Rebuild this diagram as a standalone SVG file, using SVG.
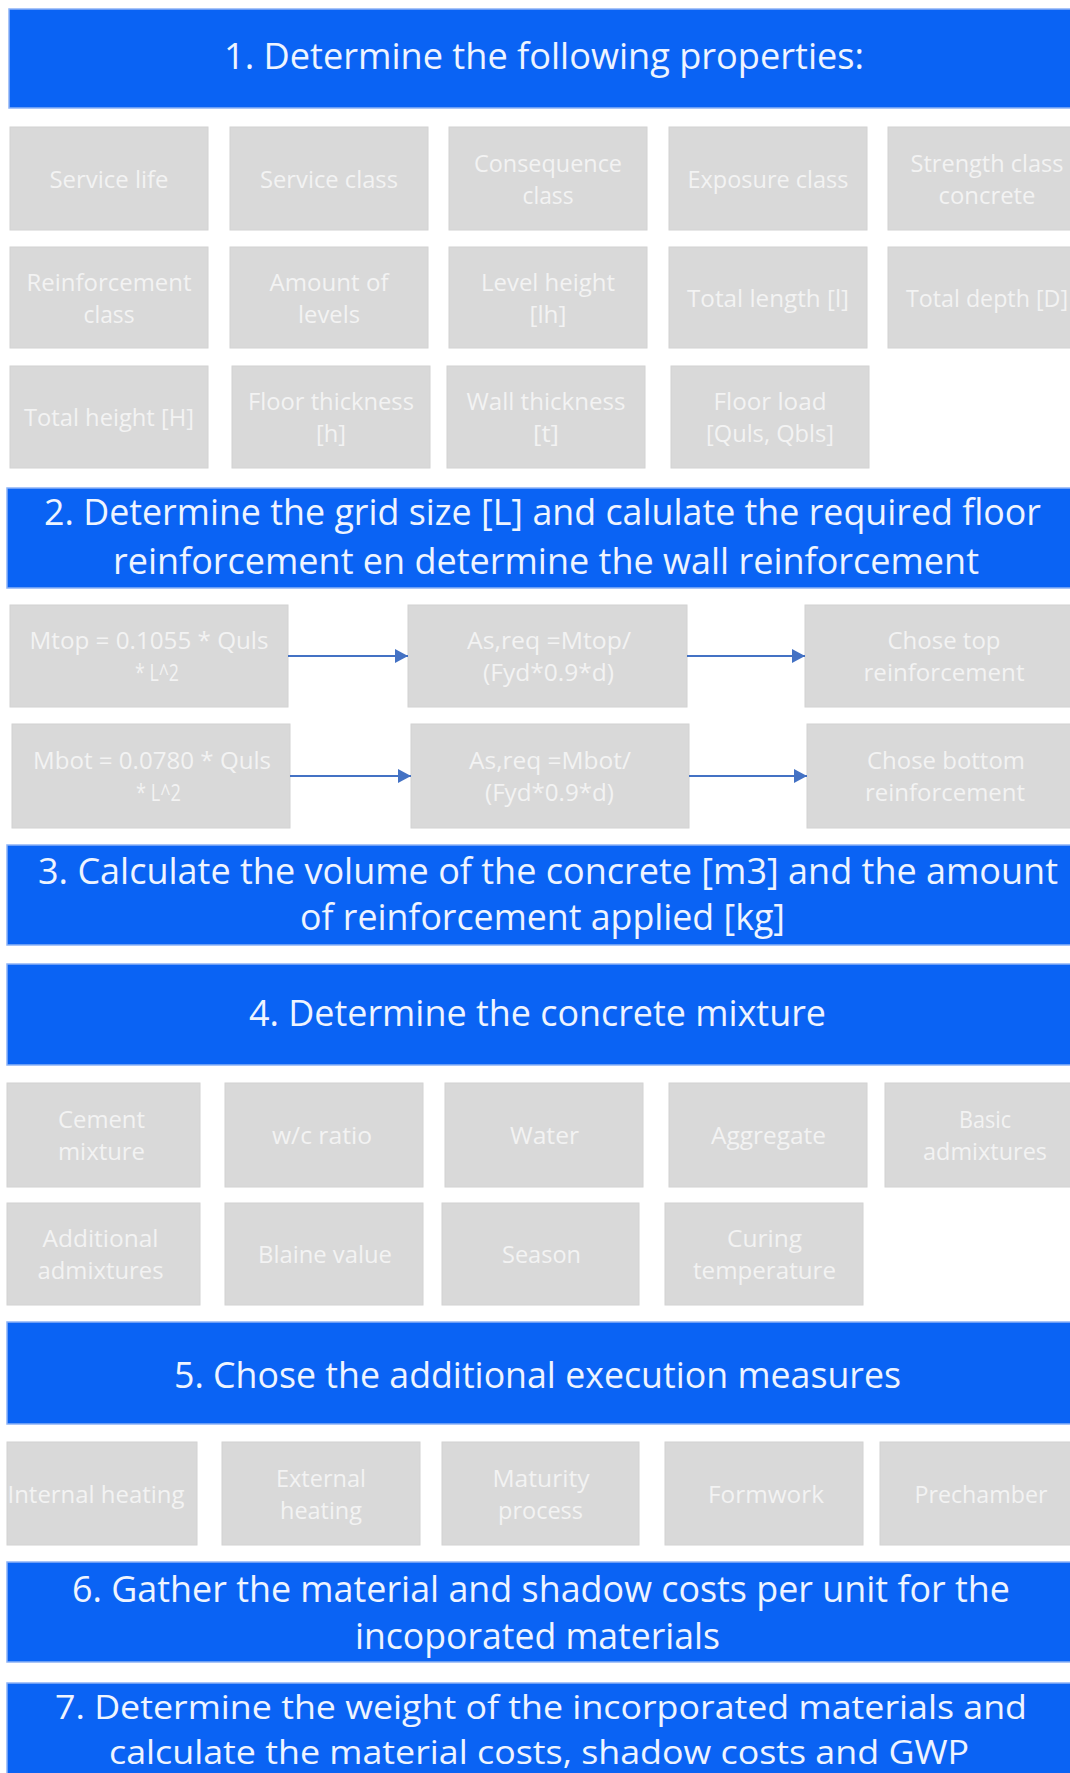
<svg xmlns="http://www.w3.org/2000/svg" width="1070" height="1773" viewBox="0 0 1070 1773">
<style>
.bar{fill:#0a63f4;stroke:#8db3f6;stroke-width:1.5}
.box{fill:#d9d9d9;stroke:#d2d2d2;stroke-width:1}
.ht{font-family:"Open Sans","Liberation Sans",sans-serif;font-size:36px;fill:#eef4ff;text-anchor:middle}
.ht7{font-size:33px}
.bt{font-family:"Open Sans","Liberation Sans",sans-serif;font-size:23px;fill:#f3f3f3;text-anchor:middle}
.con{stroke:#4472c4;stroke-width:2.2;fill:none}
</style>
<defs>
<marker id="ah" markerUnits="userSpaceOnUse" markerWidth="14" markerHeight="14" refX="13" refY="7" orient="auto">
<path d="M0,0 L13,7 L0,14 Z" fill="#4472c4"/>
</marker>
</defs>
<rect x="0" y="0" width="1070" height="1773" fill="#ffffff"/>

<g id="step1">
<rect class="bar" x="9" y="9" width="1080" height="99"/>
<text class="ht" x="544" y="69" textLength="640" lengthAdjust="spacingAndGlyphs">1. Determine the following properties:</text>
</g>
<g id="service-life"><rect class="box" x="10" y="127" width="198" height="103"/><text class="bt" x="109" y="187.5" textLength="119" lengthAdjust="spacingAndGlyphs">Service life</text></g>
<g id="service-class"><rect class="box" x="230" y="127" width="198" height="103"/><text class="bt" x="329" y="187.5" textLength="138" lengthAdjust="spacingAndGlyphs">Service class</text></g>
<g id="consequence-class"><rect class="box" x="449" y="127" width="198" height="103"/><text class="bt" x="548" y="171.5" textLength="148" lengthAdjust="spacingAndGlyphs">Consequence</text><text class="bt" x="548" y="203.5" textLength="51" lengthAdjust="spacingAndGlyphs">class</text></g>
<g id="exposure-class"><rect class="box" x="669" y="127" width="198" height="103"/><text class="bt" x="768" y="187.5" textLength="161" lengthAdjust="spacingAndGlyphs">Exposure class</text></g>
<g id="strength-class"><rect class="box" x="888" y="127" width="198" height="103"/><text class="bt" x="987" y="171.5" textLength="153" lengthAdjust="spacingAndGlyphs">Strength class</text><text class="bt" x="987" y="203.5" textLength="97" lengthAdjust="spacingAndGlyphs">concrete</text></g>

<g id="reinforcement-class"><rect class="box" x="10" y="247" width="198" height="101"/><text class="bt" x="109" y="290.5" textLength="165" lengthAdjust="spacingAndGlyphs">Reinforcement</text><text class="bt" x="109" y="322.5" textLength="51" lengthAdjust="spacingAndGlyphs">class</text></g>
<g id="amount-of-levels"><rect class="box" x="230" y="247" width="198" height="101"/><text class="bt" x="329" y="290.5" textLength="119" lengthAdjust="spacingAndGlyphs">Amount of</text><text class="bt" x="329" y="322.5" textLength="62" lengthAdjust="spacingAndGlyphs">levels</text></g>
<g id="level-height"><rect class="box" x="449" y="247" width="198" height="101"/><text class="bt" x="548" y="290.5" textLength="134" lengthAdjust="spacingAndGlyphs">Level height</text><text class="bt" x="548" y="322.5" textLength="37" lengthAdjust="spacingAndGlyphs">[lh]</text></g>
<g id="total-length"><rect class="box" x="669" y="247" width="198" height="101"/><text class="bt" x="768" y="306.5" textLength="162" lengthAdjust="spacingAndGlyphs">Total length [l]</text></g>
<g id="total-depth"><rect class="box" x="888" y="247" width="198" height="101"/><text class="bt" x="987" y="306.5" textLength="162" lengthAdjust="spacingAndGlyphs">Total depth [D]</text></g>

<g id="total-height"><rect class="box" x="10" y="366" width="198" height="102"/><text class="bt" x="109" y="426" textLength="170" lengthAdjust="spacingAndGlyphs">Total height [H]</text></g>
<g id="floor-thickness"><rect class="box" x="232" y="366" width="198" height="102"/><text class="bt" x="331" y="410" textLength="166" lengthAdjust="spacingAndGlyphs">Floor thickness</text><text class="bt" x="331" y="442" textLength="30" lengthAdjust="spacingAndGlyphs">[h]</text></g>
<g id="wall-thickness"><rect class="box" x="447" y="366" width="198" height="102"/><text class="bt" x="546" y="410" textLength="159" lengthAdjust="spacingAndGlyphs">Wall thickness</text><text class="bt" x="546" y="442" textLength="26" lengthAdjust="spacingAndGlyphs">[t]</text></g>
<g id="floor-load"><rect class="box" x="671" y="366" width="198" height="102"/><text class="bt" x="770" y="410" textLength="113" lengthAdjust="spacingAndGlyphs">Floor load</text><text class="bt" x="770" y="442" textLength="128" lengthAdjust="spacingAndGlyphs">[Quls, Qbls]</text></g>

<g id="step2">
<rect class="bar" x="7" y="488" width="1082" height="100"/>
<text class="ht" x="542.5" y="525" textLength="997" lengthAdjust="spacingAndGlyphs">2. Determine the grid size [L] and calulate the required floor</text>
<text class="ht" x="546" y="574" textLength="866" lengthAdjust="spacingAndGlyphs">reinforcement en determine the wall reinforcement</text>
</g>
<g id="mtop"><rect class="box" x="10" y="605" width="278" height="102"/><text class="bt" x="149" y="649" textLength="239" lengthAdjust="spacingAndGlyphs">Mtop = 0.1055 * Quls</text><text class="bt" x="157" y="681" textLength="44" lengthAdjust="spacingAndGlyphs">* L^2</text></g>
<g id="asreq-top"><rect class="box" x="408" y="605" width="279" height="102"/><text class="bt" x="549" y="649" textLength="164" lengthAdjust="spacingAndGlyphs">As,req =Mtop/</text><text class="bt" x="548.5" y="681" textLength="131" lengthAdjust="spacingAndGlyphs">(Fyd*0.9*d)</text></g>
<g id="chose-top"><rect class="box" x="805" y="605" width="279" height="102"/><text class="bt" x="944" y="649" textLength="113" lengthAdjust="spacingAndGlyphs">Chose top</text><text class="bt" x="944" y="681" textLength="161" lengthAdjust="spacingAndGlyphs">reinforcement</text></g>
<g id="mbot"><rect class="box" x="12" y="724" width="278" height="104"/><text class="bt" x="152" y="769" textLength="238" lengthAdjust="spacingAndGlyphs">Mbot = 0.0780 * Quls</text><text class="bt" x="158.5" y="801" textLength="45" lengthAdjust="spacingAndGlyphs">* L^2</text></g>
<g id="asreq-bot"><rect class="box" x="411" y="724" width="278" height="104"/><text class="bt" x="550" y="769" textLength="162" lengthAdjust="spacingAndGlyphs">As,req =Mbot/</text><text class="bt" x="549.5" y="801" textLength="129" lengthAdjust="spacingAndGlyphs">(Fyd*0.9*d)</text></g>
<g id="chose-bottom"><rect class="box" x="807" y="724" width="279" height="104"/><text class="bt" x="946" y="769" textLength="158" lengthAdjust="spacingAndGlyphs">Chose bottom</text><text class="bt" x="945" y="801" textLength="160" lengthAdjust="spacingAndGlyphs">reinforcement</text></g>

<g id="connectors">
<line class="con" x1="288" y1="656" x2="408" y2="656" marker-end="url(#ah)"/>
<line class="con" x1="687" y1="656" x2="805" y2="656" marker-end="url(#ah)"/>
<line class="con" x1="290" y1="776" x2="411" y2="776" marker-end="url(#ah)"/>
<line class="con" x1="689" y1="776" x2="807" y2="776" marker-end="url(#ah)"/>
</g>

<g id="step3">
<rect class="bar" x="7" y="845" width="1082" height="100"/>
<text class="ht" x="548" y="884" textLength="1020" lengthAdjust="spacingAndGlyphs">3. Calculate the volume of the concrete [m3] and the amount</text>
<text class="ht" x="542.5" y="930" textLength="485" lengthAdjust="spacingAndGlyphs">of reinforcement applied [kg]</text>
</g>

<g id="step4">
<rect class="bar" x="7" y="964" width="1082" height="101"/>
<text class="ht" x="537.5" y="1026" textLength="577" lengthAdjust="spacingAndGlyphs">4. Determine the concrete mixture</text>
</g>
<g id="cement-mixture"><rect class="box" x="7" y="1083" width="193" height="104"/><text class="bt" x="101.5" y="1128" textLength="87" lengthAdjust="spacingAndGlyphs">Cement</text><text class="bt" x="101.5" y="1160" textLength="87" lengthAdjust="spacingAndGlyphs">mixture</text></g>
<g id="wc-ratio"><rect class="box" x="225" y="1083" width="198" height="104"/><text class="bt" x="322" y="1144" textLength="100" lengthAdjust="spacingAndGlyphs">w/c ratio</text></g>
<g id="water"><rect class="box" x="445" y="1083" width="198" height="104"/><text class="bt" x="544.5" y="1144" textLength="69" lengthAdjust="spacingAndGlyphs">Water</text></g>
<g id="aggregate"><rect class="box" x="669" y="1083" width="198" height="104"/><text class="bt" x="768.5" y="1144" textLength="115" lengthAdjust="spacingAndGlyphs">Aggregate</text></g>
<g id="basic-admixtures"><rect class="box" x="885" y="1083" width="198" height="104"/><text class="bt" x="985" y="1128" textLength="52" lengthAdjust="spacingAndGlyphs">Basic</text><text class="bt" x="985" y="1160" textLength="124" lengthAdjust="spacingAndGlyphs">admixtures</text></g>
<g id="additional-admixtures"><rect class="box" x="7" y="1203" width="193" height="102"/><text class="bt" x="100.5" y="1247" textLength="116" lengthAdjust="spacingAndGlyphs">Additional</text><text class="bt" x="100.5" y="1279" textLength="126" lengthAdjust="spacingAndGlyphs">admixtures</text></g>
<g id="blaine-value"><rect class="box" x="225" y="1203" width="198" height="102"/><text class="bt" x="325" y="1263" textLength="134" lengthAdjust="spacingAndGlyphs">Blaine value</text></g>
<g id="season"><rect class="box" x="442" y="1203" width="197" height="102"/><text class="bt" x="541.5" y="1263" textLength="79" lengthAdjust="spacingAndGlyphs">Season</text></g>
<g id="curing-temperature"><rect class="box" x="665" y="1203" width="198" height="102"/><text class="bt" x="764.5" y="1247" textLength="75" lengthAdjust="spacingAndGlyphs">Curing</text><text class="bt" x="764.5" y="1279" textLength="143" lengthAdjust="spacingAndGlyphs">temperature</text></g>

<g id="step5">
<rect class="bar" x="7" y="1322" width="1082" height="102"/>
<text class="ht" x="537.5" y="1388" textLength="727" lengthAdjust="spacingAndGlyphs">5. Chose the additional execution measures</text>
</g>
<g id="internal-heating"><rect class="box" x="7" y="1442" width="190" height="103"/><text class="bt" x="96" y="1502.5" textLength="177" lengthAdjust="spacingAndGlyphs">Internal heating</text></g>
<g id="external-heating"><rect class="box" x="222" y="1442" width="198" height="103"/><text class="bt" x="321" y="1486.5" textLength="90" lengthAdjust="spacingAndGlyphs">External</text><text class="bt" x="321" y="1518.5" textLength="82" lengthAdjust="spacingAndGlyphs">heating</text></g>
<g id="maturity-process"><rect class="box" x="442" y="1442" width="197" height="103"/><text class="bt" x="541" y="1486.5" textLength="97" lengthAdjust="spacingAndGlyphs">Maturity</text><text class="bt" x="540.5" y="1518.5" textLength="85" lengthAdjust="spacingAndGlyphs">process</text></g>
<g id="formwork"><rect class="box" x="665" y="1442" width="198" height="103"/><text class="bt" x="766" y="1502.5" textLength="116" lengthAdjust="spacingAndGlyphs">Formwork</text></g>
<g id="prechamber"><rect class="box" x="880" y="1442" width="198" height="103"/><text class="bt" x="981" y="1502.5" textLength="133" lengthAdjust="spacingAndGlyphs">Prechamber</text></g>

<g id="step6">
<rect class="bar" x="7" y="1562" width="1082" height="100"/>
<text class="ht" x="541" y="1602" textLength="938" lengthAdjust="spacingAndGlyphs">6. Gather the material and shadow costs per unit for the</text>
<text class="ht" x="537.5" y="1649" textLength="365" lengthAdjust="spacingAndGlyphs">incoporated materials</text>
</g>

<g id="step7">
<rect class="bar" x="7" y="1683" width="1082" height="110"/>
<text class="ht ht7" x="541" y="1719" textLength="972" lengthAdjust="spacingAndGlyphs">7. Determine the weight of the incorporated materials and</text>
<text class="ht ht7" x="539" y="1764" textLength="860" lengthAdjust="spacingAndGlyphs">calculate the material costs, shadow costs and GWP</text>
</g>
</svg>
